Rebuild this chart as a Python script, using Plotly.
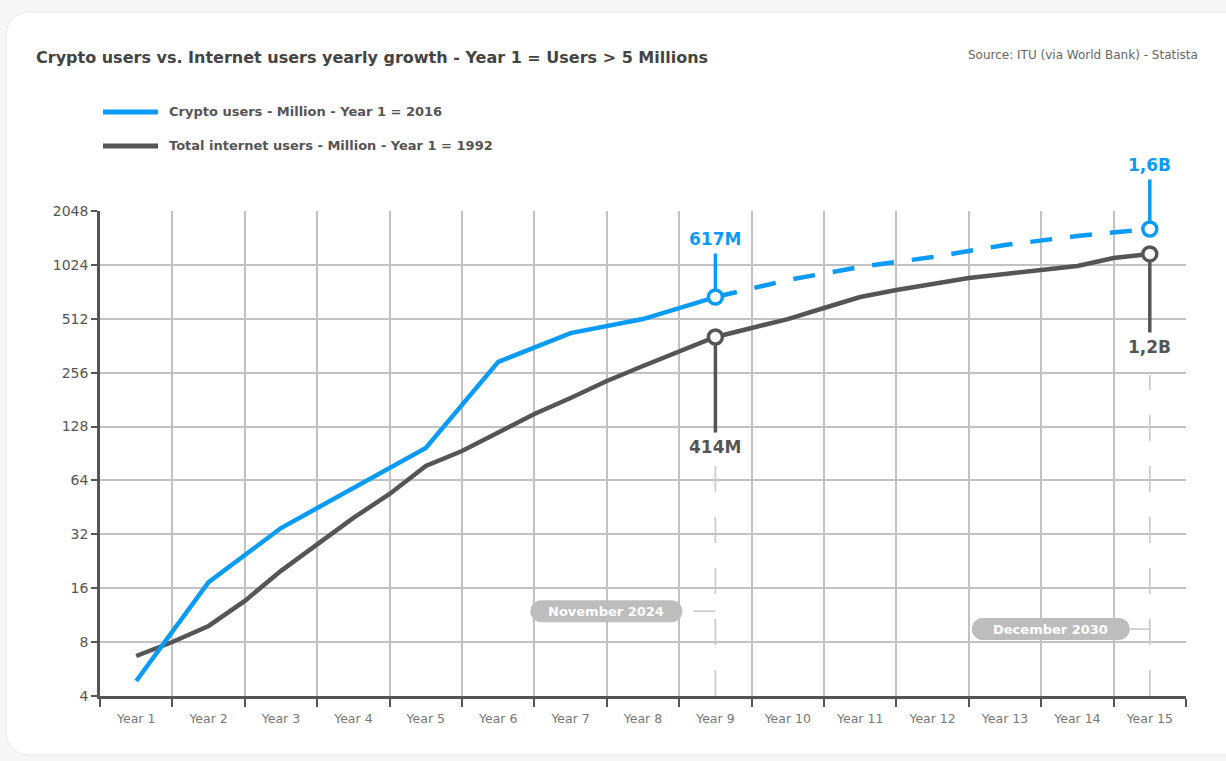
import numpy as np
import plotly.graph_objects as go

# ---------------- data ----------------
year_ticks = [1, 2, 3, 4, 5, 6, 7, 8, 9, 10, 11, 12, 13, 14, 15]
year_labels = ["Year 1", "Year 2", "Year 3", "Year 4", "Year 5", "Year 6", "Year 7", "Year 8",
               "Year 9", "Year 10", "Year 11", "Year 12", "Year 13", "Year 14", "Year 15"]

crypto_x = [1, 2, 3, 4, 5, 6, 7, 8, 9]
crypto_users = [4.85, 17.3, 34.7, 58.1, 97.1, 294, 426, 510, 677]

crypto_proj_x = [9, 10, 11, 12, 13, 14, 15]
crypto_proj = [677, 843, 997, 1133, 1322, 1485, 1625]

internet_x = [1, 1.5, 2, 2.5, 3, 3.5, 4, 4.5, 5, 5.5, 6, 6.5, 7, 7.5, 8, 8.5, 9,
              9.5, 10, 10.5, 11, 11.5, 12, 12.5, 13, 13.5, 14, 14.5, 15]
internet_users = [6.69, 8.01, 9.85, 13.6, 20.0, 28.3, 39.5, 53.8, 77.1, 93.4, 119.4, 150.4,
                  184.8, 229.9, 279, 338, 405, 455, 510, 588, 677, 741, 801, 865, 911, 959,
                  1009, 1119, 1179]

y_ticks = [4, 8, 16, 32, 64, 128, 256, 512, 1024, 2048]

highlight_x = [9, 15]
highlight_crypto = [677, 1625]
highlight_internet = [405, 1179]
highlight_crypto_text = ["617M", "1,6B"]
highlight_internet_text = ["414M", "1,2B"]
date_labels = ["November 2024", "December 2030"]

# ---------------- style ----------------
BLUE = "#0a9bf6"
GREY = "#555555"
FONT = "DejaVu Sans"
GRID = "#c2c2c2"
PILL = "#bdbdbe"


def rrect(x0, y0, x1, y1, r):
    k = 0.5523 * r
    return (f"M{x0 + r},{y0} L{x1 - r},{y0} C{x1 - r + k},{y0} {x1},{y0 + r - k} {x1},{y0 + r} "
            f"L{x1},{y1 - r} C{x1},{y1 - r + k} {x1 - r + k},{y1} {x1 - r},{y1} "
            f"L{x0 + r},{y1} C{x0 + r - k},{y1} {x0},{y1 - r + k} {x0},{y1 - r} "
            f"L{x0},{y0 + r} C{x0},{y0 + r - k} {x0 + r - k},{y0} {x0 + r},{y0} Z")


fig = go.Figure()

fig.add_trace(go.Scatter(x=internet_x, y=internet_users, mode="lines",
                         line=dict(color=GREY, width=4.5), hoverinfo="skip", showlegend=False))
fig.add_trace(go.Scatter(x=crypto_proj_x, y=crypto_proj, mode="lines",
                         line=dict(color=BLUE, width=4.5, dash="22px,18px"),
                         hoverinfo="skip", showlegend=False))
fig.add_trace(go.Scatter(x=crypto_x, y=crypto_users, mode="lines",
                         line=dict(color=BLUE, width=4.5), hoverinfo="skip", showlegend=False))
fig.add_trace(go.Scatter(x=highlight_x, y=highlight_internet, mode="markers",
                         marker=dict(size=14, color="white", line=dict(color=GREY, width=3.5)),
                         hoverinfo="skip", showlegend=False))
fig.add_trace(go.Scatter(x=highlight_x, y=highlight_crypto, mode="markers",
                         marker=dict(size=14, color="white", line=dict(color=BLUE, width=3.5)),
                         hoverinfo="skip", showlegend=False))

shapes = []
# card background
shapes.append(dict(type="path", xref="paper", yref="paper", xsizemode="pixel", ysizemode="pixel",
                   xanchor=0, yanchor=0, path=rrect(-94, -59, 1150, 684, 22),
                   fillcolor="white", line=dict(color="#e8e8e8", width=1), layer="below"))

# legend lines
shapes.append(dict(type="line", xref="paper", yref="paper", xsizemode="pixel", ysizemode="pixel",
                   xanchor=0, yanchor=1, x0=3, x1=58, y0=99, y1=99,
                   line=dict(color=BLUE, width=5)))
shapes.append(dict(type="line", xref="paper", yref="paper", xsizemode="pixel", ysizemode="pixel",
                   xanchor=0, yanchor=1, x0=3, x1=58, y0=65, y1=65,
                   line=dict(color=GREY, width=5)))

# dashed reference lines
dash_tops = [0.482, 0.662]
pill_y = [0.175, 0.138]
pill_dx = [-109, -99]
pill_w = [152, 158]
conn_len = [22, 20]
for i in range(2):
    shapes.append(dict(type="line", xref="x", yref="paper", x0=highlight_x[i], x1=highlight_x[i],
                       y0=0, y1=dash_tops[i], line=dict(color="#c8c8c8", width=1.6, dash="26px,25px"),
                       layer="above"))
    shapes.append(dict(type="line", xref="x", yref="paper", xsizemode="pixel", ysizemode="pixel",
                       xanchor=highlight_x[i], yanchor=pill_y[i], x0=-conn_len[i], x1=0, y0=0, y1=0,
                       line=dict(color="#c8c8c8", width=1.6)))
    cx = pill_dx[i]
    w = pill_w[i]
    shapes.append(dict(type="path", xref="x", yref="paper", xsizemode="pixel", ysizemode="pixel",
                       xanchor=highlight_x[i], yanchor=pill_y[i],
                       path=rrect(cx - w / 2, -11, cx + w / 2, 11, 11),
                       fillcolor=PILL, line=dict(width=0), layer="above"))

annotations = []
# title & source
annotations.append(dict(xref="paper", yref="paper", x=0, y=1, xshift=-66, yshift=154,
                        xanchor="left", yanchor="middle", showarrow=False,
                        text="Crypto users vs. Internet users yearly growth - Year 1 = Users > 5 Millions",
                        font=dict(family=FONT, size=16, color="#444444", weight=600)))
annotations.append(dict(xref="paper", yref="paper", x=1, y=1, xshift=14, yshift=156,
                        xanchor="right", yanchor="middle", showarrow=False,
                        text="Source: ITU (via World Bank) - Statista",
                        font=dict(family=FONT, size=12, color="#666666")))
# legend texts
annotations.append(dict(xref="paper", yref="paper", x=0, y=1, xshift=67, yshift=100,
                        xanchor="left", yanchor="middle", showarrow=False,
                        text="Crypto users - Million - Year 1 = 2016",
                        font=dict(family=FONT, size=13, color="#555555", weight=600)))
annotations.append(dict(xref="paper", yref="paper", x=0, y=1, xshift=67, yshift=66,
                        xanchor="left", yanchor="middle", showarrow=False,
                        text="Total internet users - Million - Year 1 = 1992",
                        font=dict(family=FONT, size=13, color="#555555", weight=600)))

crypto_ay = [-58, -64]
internet_ay = [110, 93]
for i in range(2):
    annotations.append(dict(x=highlight_x[i], y=np.log10(highlight_crypto[i]), xref="x", yref="y",
                            text=highlight_crypto_text[i], showarrow=True, arrowhead=0,
                            arrowwidth=3.5, arrowcolor=BLUE, ax=0, ay=crypto_ay[i], standoff=8,
                            borderpad=4,
                            font=dict(family=FONT, size=17, color=BLUE, weight=700)))
    annotations.append(dict(x=highlight_x[i], y=np.log10(highlight_internet[i]), xref="x", yref="y",
                            text=highlight_internet_text[i], showarrow=True, arrowhead=0,
                            arrowwidth=3.5, arrowcolor=GREY, ax=0, ay=internet_ay[i], standoff=8,
                            borderpad=4,
                            font=dict(family=FONT, size=17, color=GREY, weight=700)))
    annotations.append(dict(x=highlight_x[i], xref="x", xshift=pill_dx[i], y=pill_y[i], yref="paper",
                            text=date_labels[i], showarrow=False, xanchor="center", yanchor="middle",
                            font=dict(family=FONT, size=13, color="white", weight=700)))

fig.update_layout(
    width=1226, height=761,
    margin=dict(l=100, r=40, t=211, b=65),
    paper_bgcolor="#f7f7f7",
    plot_bgcolor="white",
    shapes=shapes,
    annotations=annotations,
    showlegend=False,
    font=dict(family=FONT),
    xaxis=dict(range=[0.5, 15.5], tickmode="array", tickvals=year_ticks, ticktext=year_labels,
               showgrid=False, zeroline=False, showline=True, linecolor=GREY, linewidth=2.5,
               ticks="outside", ticklen=9, tickcolor="rgba(0,0,0,0)",
               tickfont=dict(family=FONT, size=12.5, color="#777777"),
               minor=dict(tickmode="array", tickvals=[v + 0.5 for v in [0] + year_ticks],
                          ticks="outside", ticklen=8, tickwidth=2, tickcolor=GREY,
                          showgrid=True, gridcolor=GRID, gridwidth=1.5)),
    yaxis=dict(type="log", range=[np.log10(4), np.log10(2048)], tickmode="array",
               tickvals=y_ticks, ticktext=[str(v) for v in y_ticks],
               showgrid=True, gridcolor=GRID, gridwidth=1.5, zeroline=False,
               showline=True, linecolor=GREY, linewidth=2.5,
               ticks="outside", ticklen=6, tickwidth=2, tickcolor=GREY,
               tickfont=dict(family=FONT, size=14, color="#555555")),
)

fig.write_html("out.html")
